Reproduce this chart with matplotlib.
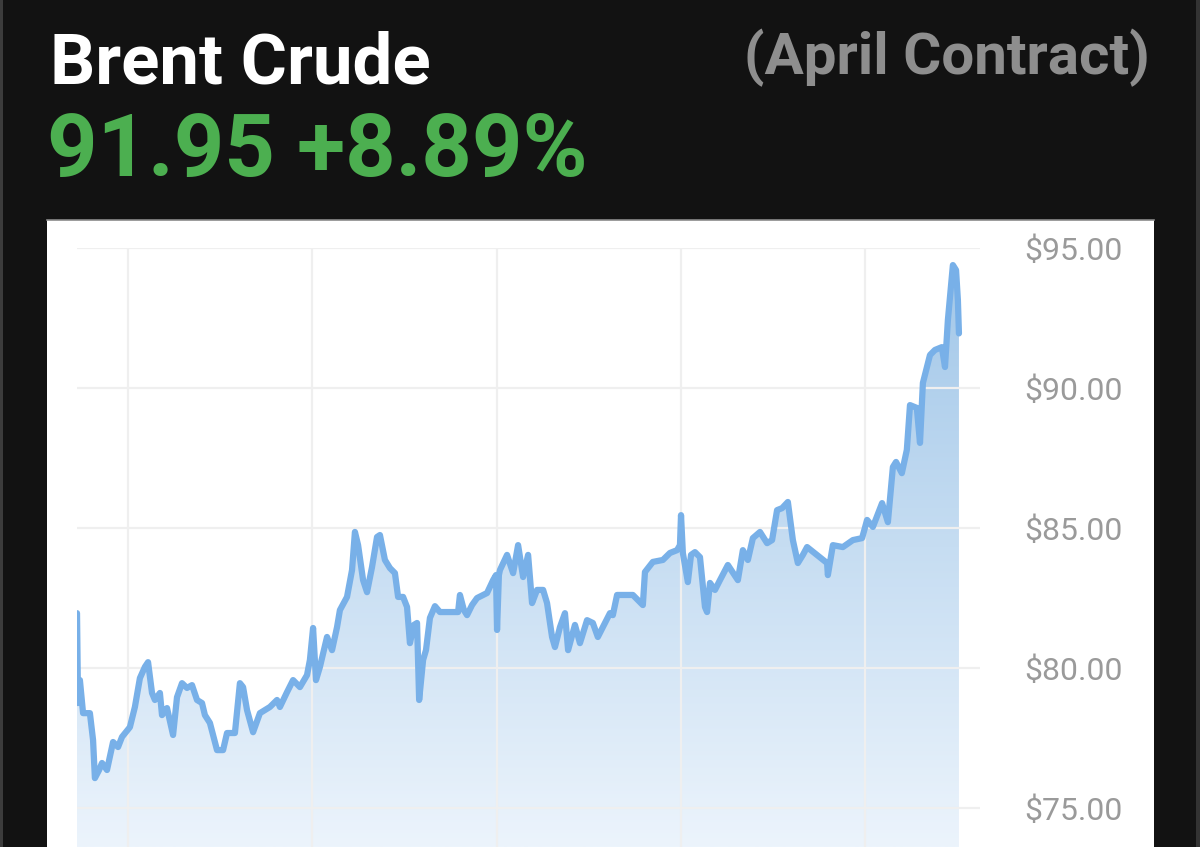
import numpy as np
import matplotlib
matplotlib.use("Agg")
import matplotlib.pyplot as plt
from matplotlib.patches import Rectangle
from matplotlib.lines import Line2D
from matplotlib.ticker import FuncFormatter

# ---- data (time in days from start, price in USD) ----
t = [0.00, 0.04, 0.11, 0.23, 0.49, 0.61, 0.68, 0.84, 0.95, 1.14, 1.37, 1.56, 1.71, 2.01, 2.20,
     2.39, 2.58, 2.70, 2.85, 2.96, 3.15, 3.23, 3.42, 3.65, 3.80, 3.99, 4.18, 4.37, 4.56, 4.75,
     4.86, 5.05, 5.32, 5.55, 5.70, 6.00, 6.19, 6.31, 6.46, 6.69, 6.95, 7.33, 7.60, 7.71, 7.98,
     8.21, 8.47, 8.74, 8.85, 8.97, 9.08, 9.23, 9.50, 9.69, 9.88, 9.99, 10.26, 10.45, 10.56, 10.68,
     10.87, 11.02, 11.21, 11.40, 11.51, 11.70, 11.89, 12.08, 12.20, 12.39, 12.54, 12.65, 12.80, 12.92, 13.00,
     13.15, 13.26, 13.41, 13.60, 13.79, 14.48, 14.55, 14.70, 14.82, 15.01, 15.20, 15.58, 15.81, 15.92, 15.96,
     16.03, 16.07, 16.34, 16.57, 16.76, 16.95, 17.14, 17.29, 17.48, 17.71, 17.86, 18.05, 18.16, 18.35, 18.54,
     18.66, 18.92, 19.11, 19.38, 19.60, 19.79, 19.98, 20.25, 20.36, 20.52, 21.12, 21.50, 21.58, 21.88, 22.26,
     22.53, 22.80, 22.91, 22.95, 23.02, 23.21, 23.33, 23.48, 23.67, 23.86, 23.94, 24.05, 24.24, 24.43, 24.73,
     25.11, 25.30, 25.49, 25.68, 25.95, 26.22, 26.41, 26.60, 26.79, 27.01, 27.20, 27.39, 27.58, 27.74, 28.50,
     28.53, 28.72, 29.10, 29.48, 29.83, 30.02, 30.24, 30.59, 30.81, 31.00, 31.12, 31.34, 31.53, 31.65, 31.91,
     32.03, 32.14, 32.41, 32.60, 32.86, 32.98, 33.09, 33.28, 33.40, 33.47, 33.51]
price = [81.96, 78.75, 79.57, 78.39, 78.39, 77.43, 76.07, 76.36, 76.61, 76.36, 77.36, 77.18, 77.54, 77.89, 78.61,
         79.64, 80.04, 80.21, 79.11, 78.86, 79.11, 78.32, 78.57, 77.61, 78.96, 79.46, 79.29, 79.39, 78.86, 78.75,
         78.32, 78.04, 77.07, 77.07, 77.68, 77.68, 79.46, 79.32, 78.50, 77.71, 78.39, 78.61, 78.86, 78.61, 79.14,
         79.57, 79.32, 79.75, 80.29, 81.43, 79.57, 80.04, 81.11, 80.64, 81.46, 82.07, 82.54, 83.50, 84.86, 84.39,
         83.14, 82.71, 83.61, 84.68, 84.75, 83.86, 83.57, 83.39, 82.54, 82.54, 82.18, 80.89, 81.54, 81.61, 78.86,
         80.29, 80.64, 81.79, 82.21, 82.00, 82.00, 82.61, 82.07, 81.89, 82.25, 82.50, 82.68, 83.14, 83.32, 81.36,
         83.32, 83.50, 84.04, 83.39, 84.39, 83.25, 84.04, 82.32, 82.79, 82.79, 82.32, 81.11, 80.75, 81.46, 81.96,
         80.64, 81.54, 80.89, 81.71, 81.61, 81.11, 81.46, 81.96, 81.89, 82.61, 82.61, 82.25, 83.43, 83.79, 83.86,
         84.11, 84.21, 84.39, 85.46, 84.11, 83.07, 84.04, 84.14, 83.96, 82.18, 82.00, 83.04, 82.79, 83.14, 83.68,
         83.14, 84.21, 83.86, 84.64, 84.86, 84.46, 84.57, 85.64, 85.71, 85.93, 84.57, 83.75, 84.04, 84.32, 83.75,
         83.32, 84.39, 84.32, 84.57, 84.64, 85.29, 85.04, 85.89, 85.21, 87.18, 87.36, 86.96, 87.79, 89.39, 89.29,
         88.04, 90.18, 91.18, 91.36, 91.46, 90.75, 92.43, 94.39, 94.21, 93.14, 91.95]
y_ticks = [75, 80, 85, 90, 95]
title = "Brent Crude"
subtitle = "(April Contract)"
last_price = "91.95"
change = "+8.89%"

FONT = ["Roboto", "DejaVu Sans"]
plt.rcParams["font.family"] = FONT

W, H = 1200, 847
fig = plt.figure(figsize=(W / 100, H / 100), dpi=100)
fig.patch.set_facecolor("#121212")

# outer edge strips
fig.add_artist(Rectangle((0, 0), 3 / W, 1, transform=fig.transFigure, fc="#3c3c3c", ec="none"))
fig.add_artist(Rectangle((1196 / W, 0), 4 / W, 1, transform=fig.transFigure, fc="#333333", ec="none"))

# white panel
fig.add_artist(Rectangle((47 / W, 0), (1154 - 47) / W, (H - 220) / H, transform=fig.transFigure,
                         fc="white", ec="none", zorder=0))
fig.add_artist(Line2D([47 / W, 1154 / W], [(H - 220) / H] * 2, transform=fig.transFigure,
                      color="#8a8a8a", lw=1.2))

# header texts
fig.text(50 / W, 1 - 83 / H, title, color="white", fontsize=51, fontweight="bold", va="baseline", ha="left")
fig.text(1150 / W, 1 - 74 / H, subtitle, color="#8e8e8e", fontsize=42, fontweight="bold", va="baseline", ha="right")
fig.text(47 / W, 1 - 176 / H, f"{last_price} {change}", color="#4caf50", fontsize=63.5, fontweight="bold",
         va="baseline", ha="left")

# chart axes
ax = fig.add_axes([77 / W, 0, (980 - 77) / W, (847 - 248) / H])
ax.set_facecolor("none")
ymin, ymax = 73.61, 95
ax.set_xlim(0, 34.31)
ax.set_ylim(ymin, ymax)
for s in ax.spines.values():
    s.set_visible(False)

ax.set_xticks(np.arange(1.94, 34, 7))
ax.set_yticks(y_ticks)
ax.grid(True, color="#efefef", lw=1.6, zorder=0)
ax.tick_params(axis="x", length=0, labelbottom=False)
ax.yaxis.tick_right()
ax.tick_params(axis="y", length=0, pad=32, labelsize=23, labelcolor="#9a9a9a")
ax.yaxis.set_major_formatter(FuncFormatter(lambda v, _: f"${v:.2f}"))

# gradient fill under line
poly = ax.fill_between(t, price, ymin, facecolor="none", edgecolor="none")
top_c = np.array([160, 198, 232]) / 255
bot_c = np.array([236, 244, 252]) / 255
n = 256
frac = np.linspace(0, 1, n)[:, None]
grad = (top_c[None, :] * (1 - frac) + bot_c[None, :] * frac)[:, None, :]
im = ax.imshow(grad, extent=[t[0], t[-1], ymin, ymax], aspect="auto", origin="upper", zorder=1)
path = poly.get_paths()[0]
im.set_clip_path(path, transform=ax.transData)

ax.plot(t, price, color="#78b0e8", lw=4.5, solid_joinstyle="round", solid_capstyle="round", zorder=3)

fig.savefig("out.png", dpi=100, facecolor=fig.get_facecolor())
